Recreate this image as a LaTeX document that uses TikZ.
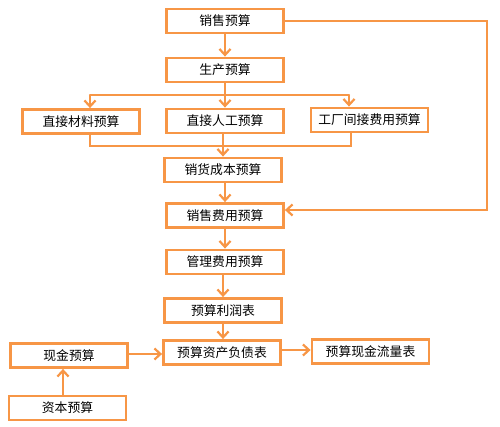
\documentclass[tikz,border=0pt]{standalone}
\usepackage{fontspec}
\setmainfont{Noto Sans CJK SC}
\usetikzlibrary{arrows.meta}
\definecolor{myorange}{RGB}{247, 150, 70}
\tikzset{every picture/.style={line width=2pt}}
\tikzset{budgetbox/.style={draw=myorange, line width=2.8pt, fill=white, minimum width=117pt, minimum height=24pt, inner sep=0pt, font=\fontsize{12.8}{14}\selectfont},
  orangeline/.style={draw=myorange, line width=2.2pt},
  orangearrow/.style={orangeline, -{Straight Barb[length=6pt, width=11pt, line width=2.2pt]}}}

\begin{document}
\begin{tikzpicture}[x=1pt,y=1pt,yscale=-1,xscale=1]
\useasboundingbox (0,0) rectangle (500,427);

%Boxes
\node [budgetbox] (sale) at (225,21) {销售预算};
\node [budgetbox] (prod) at (225,70) {生产预算};
\node [budgetbox] (mat) at (81,121.5) {直接材料预算};
\node [budgetbox] (lab) at (225,121) {直接人工预算};
\node [budgetbox] (ovh) at (369.5,120) {工厂间接费用预算};
\node [budgetbox] (cogs) at (223,170) {销货成本预算};
\node [budgetbox] (sexp) at (225,215.5) {销售费用预算};
\node [budgetbox] (aexp) at (225,262) {管理费用预算};
\node [budgetbox] (inc) at (223,310.5) {预算利润表};
\node [budgetbox] (bal) at (222,352.5) {预算资产负债表};
\node [budgetbox] (cflow) at (370.5,351.5) {预算现金流量表};
\node [budgetbox] (cash) at (69,355.5) {现金预算};
\node [budgetbox] (cap) at (67.5,408) {资本预算};

%Branch points
\coordinate (splitL) at (90,95);
\coordinate (splitM) at (225,95);
\coordinate (splitR) at (349,95);
\coordinate (joinL) at (90,146);
\coordinate (joinR) at (351,146);
\coordinate (loopT) at (487,21);
\coordinate (loopB) at (487,210);

%Straight Lines
\draw [orangearrow] (sale.south) -- (prod.north);
\draw [orangeline] (prod.south) -- (splitM);
\draw [orangeline, line cap=round] (splitL) -- (splitR);
\draw [orangearrow] (splitL) -- (mat.north -| splitL);
\draw [orangearrow] (splitM) -- (lab.north);
\draw [orangearrow] (splitR) -- (ovh.north -| splitR);
\draw [orangeline] (mat.south -| joinL) -- (joinL) -- (joinR) -- (ovh.south -| joinR);
\draw [orangearrow] (lab.south -| cogs) -- (cogs.north);
\draw [orangearrow] (sale.east) -- (loopT) -- (loopB) -- (sexp.east |- loopB);
\draw [orangearrow] (cogs.south -| sexp) -- (sexp.north);
\draw [orangearrow] (sexp.south) -- (aexp.north);
\draw [orangearrow] (aexp.south -| inc) -- (inc.north);
\draw [orangearrow] (inc.south) -- (inc.south |- bal.north);
\draw [orangearrow] (cash.east |- 0,354) -- (bal.west |- 0,354);
\draw [orangearrow] (bal.east |- 0,350) -- (cflow.west |- 0,350);
\draw [orangearrow] (cap.north -| 63,0) -- (cash.south -| 63,0);
\end{tikzpicture}
\end{document}
